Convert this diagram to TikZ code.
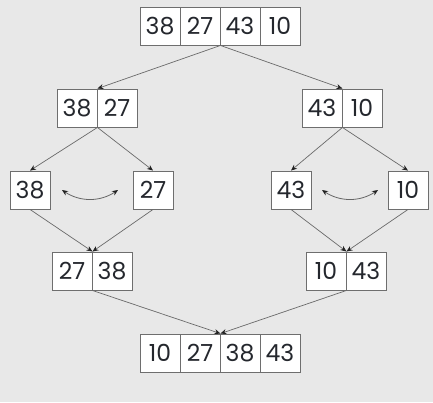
\documentclass[tikz,border=0pt]{standalone}
\usepackage{fontspec}
\setmainfont{Poppins}
\usetikzlibrary{arrows.meta}
\definecolor{bg}{HTML}{E8E8E8}
\definecolor{cellline}{HTML}{6E6E6E}
\definecolor{txt}{HTML}{24272D}
\definecolor{conn}{HTML}{6A6A6A}
\definecolor{tip}{HTML}{222222}
\begin{document}
\begin{tikzpicture}[x=1pt,y=-1pt,
  cell/.style={draw=cellline, line width=0.9pt, fill=white, minimum width=40pt, minimum height=38pt, inner sep=0pt, font=\fontsize{23.5}{23.5}\selectfont, text=txt},
  conn/.style={draw=conn, line width=0.7pt, -{Stealth[length=6pt,width=5pt,color=tip]}},
  swap/.style={draw=black!60, line width=0.8pt, {Stealth[length=6pt,width=5pt,color=tip]}-{Stealth[length=6pt,width=5pt,color=tip]}}]
\fill[bg] (0,0) rectangle (433,402);
\useasboundingbox (0,0) rectangle (433,402);
% top
\node[cell] (t1) at (160,26) {38};
\node[cell] (t2) at (200,26) {27};
\node[cell] (t3) at (240,26) {43};
\node[cell] (t4) at (280,26) {10};
% level 2
\node[cell] (a1) at (77,108) {38};
\node[cell] (a2) at (117,108) {27};
\node[cell] (b1) at (322,108) {43};
\node[cell] (b2) at (362,108) {10};
% level 3
\node[cell] (c1) at (30,190) {38};
\node[cell] (c2) at (153,190) {27};
\node[cell] (d1) at (291,190) {43};
\node[cell] (d2) at (408,190) {10};
% level 4
\node[cell] (e1) at (72,271) {27};
\node[cell] (e2) at (112,271) {38};
\node[cell] (f1) at (326,271) {10};
\node[cell] (f2) at (366,271) {43};
% bottom
\node[cell] (g1) at (160,353) {10};
\node[cell] (g2) at (200,353) {27};
\node[cell] (g3) at (240,353) {38};
\node[cell] (g4) at (280,353) {43};
% connectors
\draw[conn] (t2.south east) -- (a1.north east);
\draw[conn] (t2.south east) -- (b1.north east);
\draw[conn] (a1.south east) -- (c1.north);
\draw[conn] (a1.south east) -- (c2.north);
\draw[conn] (b1.south east) -- (d1.north);
\draw[conn] (b1.south east) -- (d2.north);
\draw[conn] (c1.south) -- (e1.north east);
\draw[conn] (c2.south) -- (e1.north east);
\draw[conn] (d1.south) -- (f1.north east);
\draw[conn] (d2.south) -- (f1.north east);
\draw[conn] (e1.south east) -- (g2.north east);
\draw[conn] (f1.south east) -- (g2.north east);
% swaps
\coordinate (s1a) at (62,190);
\coordinate (s1b) at (118,190);
\coordinate (s2a) at (322,190);
\coordinate (s2b) at (378,190);
\draw[swap] (s1a) .. controls (80,202) and (100,202) .. (s1b);
\draw[swap] (s2a) .. controls (340,202) and (360,202) .. (s2b);
\end{tikzpicture}
\end{document}
